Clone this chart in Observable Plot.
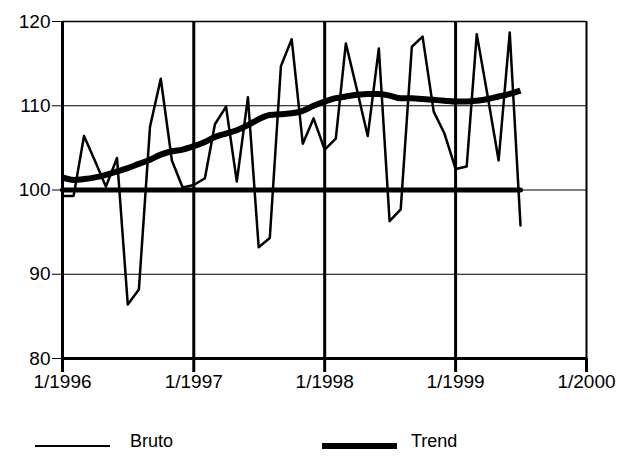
<!DOCTYPE html>
<html>
<head>
<meta charset="utf-8">
<script src="https://cdn.jsdelivr.net/npm/d3@7"></script>
<script src="https://cdn.jsdelivr.net/npm/@observablehq/plot@0.6"></script>
<style>
  body { margin: 0; background: #fff; font-family: "Liberation Sans", Arial, sans-serif; }
  #chart { position: relative; width: 636px; height: 457px; }
  .leg { position: absolute; font-size: 18px; color: #000; }
  .legline { position: absolute; background: #000; }
</style>
</head>
<body>
<div id="chart"></div>
<script>
// Monthly values, Jan 1996 – Jul 1999
const startYear = 1996;
const bruto = [
  99.3, 99.3, 106.4, 103.4, 100.4, 103.8, 86.4, 88.2, 107.5, 113.2, 103.5, 100.3,
  100.6, 101.4, 107.8, 109.9, 101.0, 111.0, 93.2, 94.3, 114.7, 117.9, 105.5, 108.5,
  104.8, 106.1, 117.4, 111.9, 106.4, 116.8, 96.3, 97.7, 117.0, 118.2, 109.3, 106.7,
  102.5, 102.8, 118.5, 111.0, 103.5, 118.7, 95.8
];
const trend = [
  101.5, 101.2, 101.3, 101.5, 101.8, 102.2, 102.6, 103.1, 103.6, 104.2, 104.6, 104.8,
  105.2, 105.7, 106.3, 106.7, 107.1, 107.7, 108.4, 108.9, 109.0, 109.1, 109.4, 110.0,
  110.5, 110.9, 111.1, 111.3, 111.4, 111.4, 111.2, 110.9, 110.9, 110.8, 110.7, 110.6,
  110.5, 110.5, 110.6, 110.8, 111.1, 111.4, 111.8
];
const baseLevel = 100;
const yearTicks = [1996, 1997, 1998, 1999, 2000];
const xTickLabels = ["1/1996", "1/1997", "1/1998", "1/1999", "1/2000"];
const yTicks = [80, 90, 100, 110, 120];
const seriesNames = ["Bruto", "Trend"];

const monthDate = i => new Date(startYear, i, 1);
const brutoData = bruto.map((v, i) => ({date: monthDate(i), value: v}));
const trendData = trend.map((v, i) => ({date: monthDate(i), value: v}));
const baseData = [{date: monthDate(0), value: baseLevel}, {date: monthDate(bruto.length - 1), value: baseLevel}];
const yearDates = yearTicks.map(y => new Date(y, 0, 1));
const labelOf = new Map(yearDates.map((d, i) => [+d, xTickLabels[i]]));

const plot = Plot.plot({
  width: 636,
  height: 400,
  marginLeft: 62,
  marginRight: 50,
  marginTop: 21,
  marginBottom: 42,
  style: {fontFamily: "Liberation Sans, Arial, sans-serif", fontSize: "19px", color: "#000", background: "#fff"},
  x: {type: "time", domain: [yearDates[0], yearDates[yearDates.length - 1]]},
  y: {domain: [80, 120]},
  marks: [
    Plot.ruleY([90, 100, 110], {stroke: "#000", strokeWidth: 1}),
    Plot.ruleY([120], {stroke: "#000", strokeWidth: 1.5}),
    Plot.ruleX(yearDates.slice(0, 4), {y1: 80, y2: 120, stroke: "#000", strokeWidth: 3}),
    Plot.ruleX(yearDates.slice(4), {y1: 80, y2: 120, stroke: "#000", strokeWidth: 2}),
    Plot.ruleY([80], {stroke: "#000", strokeWidth: 3}),
    Plot.axisY({ticks: yTicks, tickSize: 10, tickPadding: 2, stroke: "#000", strokeWidth: 1, fontSize: 19, label: null}),
    Plot.axisX({ticks: yearDates, tickSize: 14, tickPadding: 2, stroke: "#000", strokeWidth: 3, fontSize: 19,
      tickFormat: d => labelOf.get(+d), label: null}),
    Plot.lineY(baseData, {x: "date", y: "value", stroke: "#000", strokeWidth: 5}),
    Plot.lineY(brutoData, {x: "date", y: "value", stroke: "#000", strokeWidth: 2.5}),
    Plot.lineY(trendData, {x: "date", y: "value", stroke: "#000", strokeWidth: 6, curve: "monotone-x", strokeLinecap: "butt"})
  ]
});

const chart = document.getElementById("chart");
chart.appendChild(plot);
plot.style.position = "absolute";
plot.style.left = "0px";
plot.style.top = "0px";

function addLegend(x1, x2, thickness, textX, label) {
  const l = document.createElement("div");
  l.className = "legline";
  l.style.left = x1 + "px";
  l.style.width = (x2 - x1) + "px";
  l.style.top = (446 - thickness / 2) + "px";
  l.style.height = thickness + "px";
  chart.appendChild(l);
  const t = document.createElement("div");
  t.className = "leg";
  t.textContent = label;
  t.style.left = textX + "px";
  t.style.top = "431px";
  chart.appendChild(t);
}
addLegend(35, 110, 2, 130, seriesNames[0]);
addLegend(322, 397, 6, 411, seriesNames[1]);
</script>
</body>
</html>
